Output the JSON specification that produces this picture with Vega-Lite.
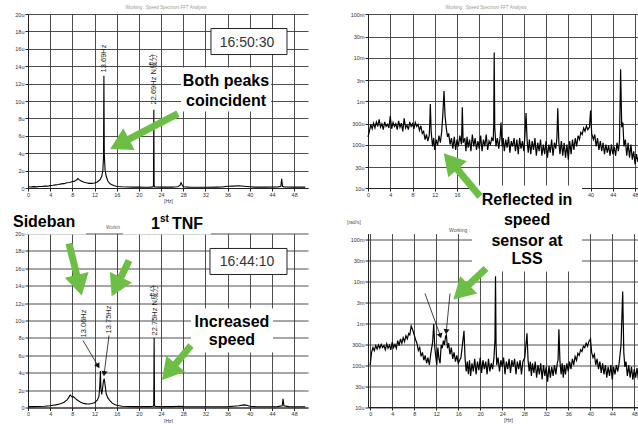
{
"$schema": "https://vega.github.io/schema/vega-lite/v6.json",
"padding": {"left": 12, "top": 5, "right": 0, "bottom": 0},
"background": "white",
"bounds": "flush",
"columns": 2,
"spacing": {"row": 45.5, "column": 60},
"config": {
  "view": {"stroke": null},
  "font": "Liberation Sans",
  "axis": {"labelFont": "Liberation Sans", "labelFontSize": 5.5, "labelColor": "#333", "domainColor": "#222", "tickColor": "#222", "gridColor": "#3a3a3a", "gridWidth": 0.9, "tickSize": 3, "labelPadding": 1, "titleFontSize": 5, "titleFontWeight": "normal", "titlePadding": 1, "titleColor": "#333", "labelFlush": false, "labelOverlap": false}
},
"concat": [
  {
   "width": 280, "height": 174,
   "encoding": {
     "x": {"field": "f", "type": "quantitative", "scale": {"domain": [0, 50.5], "nice": false, "zero": false}, "axis": {"values": [0,4,8,12,16,20,24,28,32,36,40,44,48], "title": "[Hz]", "grid": true}},
     "y": {"field": "v", "type": "quantitative", "scale": {"domain": [0, 20], "nice": false}, "axis": {"values": [0,2,4,6,8,10,12,14,16,18,20], "labelExpr": "datum.value == 0 ? '0' : datum.value + 'u'", "title": null, "grid": true}}
   },
   "layer": [
    {"data": {"values": [{"f":0,"v":0.15},{"f":0.5,"v":0.12},{"f":1,"v":0.16},{"f":1.5,"v":0.13},{"f":2,"v":0.17},{"f":2.5,"v":0.18},{"f":3,"v":0.22},{"f":3.5,"v":0.21},{"f":4,"v":0.27},{"f":4.5,"v":0.31},{"f":5,"v":0.36},{"f":5.5,"v":0.4},{"f":6,"v":0.47},{"f":6.5,"v":0.5},{"f":7,"v":0.6},{"f":7.5,"v":0.64},{"f":8,"v":0.75},{"f":8.3,"v":0.76},{"f":8.6,"v":0.86},{"f":8.8,"v":0.95},{"f":9,"v":1.08},{"f":9.2,"v":0.96},{"f":9.5,"v":0.84},{"f":10,"v":0.68},{"f":10.5,"v":0.6},{"f":11,"v":0.53},{"f":11.5,"v":0.53},{"f":12,"v":0.58},{"f":12.5,"v":0.7},{"f":13,"v":0.95},{"f":13.3,"v":1.35},{"f":13.5,"v":2.0},{"f":13.62,"v":3.6},{"f":13.69,"v":12.9},{"f":13.76,"v":4.0},{"f":13.9,"v":2.1},{"f":14.1,"v":1.35},{"f":14.4,"v":0.8},{"f":14.7,"v":0.55},{"f":15,"v":0.4},{"f":15.5,"v":0.28},{"f":16,"v":0.18},{"f":17,"v":0.14},{"f":18,"v":0.12},{"f":19,"v":0.1},{"f":20,"v":0.1},{"f":21,"v":0.09},{"f":22,"v":0.1},{"f":22.55,"v":0.13},{"f":22.63,"v":0.3},{"f":22.69,"v":9.0},{"f":22.75,"v":0.3},{"f":22.85,"v":0.12},{"f":24,"v":0.1},{"f":25,"v":0.1},{"f":26,"v":0.1},{"f":27,"v":0.15},{"f":27.4,"v":0.3},{"f":27.6,"v":0.6},{"f":27.8,"v":0.35},{"f":28,"v":0.15},{"f":29,"v":0.1},{"f":30,"v":0.08},{"f":32,"v":0.08},{"f":34,"v":0.1},{"f":35,"v":0.12},{"f":36,"v":0.2},{"f":37,"v":0.22},{"f":38,"v":0.25},{"f":39,"v":0.2},{"f":40,"v":0.15},{"f":41,"v":0.1},{"f":43,"v":0.1},{"f":45,"v":0.12},{"f":45.6,"v":0.2},{"f":45.75,"v":1.05},{"f":45.9,"v":0.2},{"f":46.2,"v":0.12},{"f":48,"v":0.1},{"f":50,"v":0.1}]},
     "mark": {"type": "line", "color": "black", "strokeWidth": 1.1}},
    {"data": {"values": [{"f":27.59,"f2":43.83,"v":13.85,"v2":8.79}]},
     "mark": {"type": "rect", "fill": "white"},
     "encoding": {"x2": {"field": "f2"}, "y2": {"field": "v2"}}},
    {"data": {"values": [{"f":33.0,"f2":46.71,"v":18.33,"v2":15.34}]},
     "mark": {"type": "rect", "fill": "white", "stroke": "#222", "strokeWidth": 1},
     "encoding": {"x2": {"field": "f2"}, "y2": {"field": "v2"}}},
    {"data": {"values": [{"f":39.5,"v":16.15,"t":"16:50:30"}]},
     "mark": {"type": "text", "fontSize": 14, "color": "#333", "align": "center", "baseline": "alphabetic"},
     "encoding": {"text": {"field": "t"}}},
    {"data": {"values": [{"f":35.71,"v":11.67,"t":"Both peaks"},{"f":35.71,"v":9.48,"t":"coincident"}]},
     "mark": {"type": "text", "fontSize": 16, "fontWeight": "bold", "color": "black", "align": "center", "baseline": "alphabetic"},
     "encoding": {"text": {"field": "t"}}},
    {"data": {"values": [{"f":13.62,"v":13.28,"t":"13.69Hz"},{"f":22.72,"v":9.6,"t":"22.69Hz N成分"}]},
     "mark": {"type": "text", "fontSize": 7.5, "angle": 270, "align": "left", "baseline": "middle", "color": "#222", "font": "Liberation Sans, Noto Sans CJK JP"},
     "encoding": {"text": {"field": "t"}}},
    {"data": {"values": [{"f":24.89,"v":20.52,"t":"Working : Speed Spectrum  FFT Analysis"}]},
     "mark": {"type": "text", "fontSize": 4.5, "color": "#999", "align": "center", "baseline": "alphabetic"},
     "encoding": {"text": {"field": "t"}}},
    {"data": {"values": [{"f":27.05,"v":8.56,"f2":17.08,"v2":5.24}]},
     "mark": {"type": "rule", "color": "#6dbe45", "strokeWidth": 7},
     "encoding": {"x2": {"field": "f2"}, "y2": {"field": "v2"}}},
    {"data": {"values": [{"f":17.08,"v":5.24,"a":242.4}]},
     "mark": {"type": "point", "shape": "triangle", "filled": true, "color": "#6dbe45", "size": 600, "opacity": 1, "strokeWidth": 0},
     "encoding": {"angle": {"field": "a", "type": "quantitative", "scale": null}}}
   ]
  },
  {
   "width": 281, "height": 174,
   "encoding": {
     "x": {"field": "f", "type": "quantitative", "scale": {"domain": [0, 50.5], "nice": false, "zero": false}, "axis": {"values": [0,4,8,12,16,20,24,28,32,36,40,44,48], "labelExpr": "datum.value >= 20 && datum.value <= 36 ? '' : datum.label", "title": null, "grid": true}},
     "y": {"field": "v", "type": "quantitative", "scale": {"type": "log", "domain": [10, 100000], "nice": false}, "axis": {"values": [10,30,100,300,1000,3000,10000,30000,100000], "labelExpr": "datum.value >= 1000 ? (datum.value / 1000) + 'm' : datum.value + 'u'", "title": null, "grid": true}}
   },
   "layer": [
    {"data": {"values": [{"f":0,"v":150},{"f":0.25,"v":200},{"f":0.5,"v":290},{"f":0.75,"v":230},{"f":1,"v":310},{"f":1.25,"v":240},{"f":1.5,"v":330},{"f":1.75,"v":260},{"f":2,"v":380},{"f":2.25,"v":250},{"f":2.5,"v":300},{"f":2.75,"v":220},{"f":3,"v":330},{"f":3.25,"v":260},{"f":3.5,"v":290},{"f":3.75,"v":240},{"f":4,"v":450},{"f":4.25,"v":230},{"f":4.5,"v":320},{"f":4.75,"v":260},{"f":5,"v":300},{"f":5.25,"v":220},{"f":5.5,"v":350},{"f":5.75,"v":250},{"f":6,"v":310},{"f":6.25,"v":200},{"f":6.5,"v":400},{"f":6.75,"v":240},{"f":7,"v":280},{"f":7.25,"v":220},{"f":7.5,"v":330},{"f":7.75,"v":260},{"f":8,"v":300},{"f":8.25,"v":230},{"f":8.5,"v":320},{"f":8.75,"v":260},{"f":9,"v":290},{"f":9.25,"v":210},{"f":9.5,"v":270},{"f":9.75,"v":180},{"f":10,"v":200},{"f":10.25,"v":130},{"f":10.5,"v":170},{"f":10.75,"v":120},{"f":11,"v":160},{"f":11.1,"v":300},{"f":11.2,"v":850},{"f":11.35,"v":200},{"f":11.6,"v":90},{"f":11.8,"v":140},{"f":12,"v":75},{"f":12.25,"v":130},{"f":12.5,"v":95},{"f":12.75,"v":160},{"f":13,"v":110},{"f":13.25,"v":200},{"f":13.45,"v":500},{"f":13.66,"v":1700},{"f":13.85,"v":450},{"f":14.1,"v":220},{"f":14.3,"v":150},{"f":14.5,"v":180},{"f":14.75,"v":100},{"f":15,"v":140},{"f":15.25,"v":80},{"f":15.5,"v":150},{"f":15.75,"v":75},{"f":16,"v":130},{"f":16.25,"v":90},{"f":16.5,"v":160},{"f":16.8,"v":100},{"f":16.95,"v":720},{"f":17.1,"v":110},{"f":17.4,"v":140},{"f":17.6,"v":70},{"f":17.8,"v":150},{"f":18,"v":85},{"f":18.25,"v":130},{"f":18.5,"v":70},{"f":18.75,"v":170},{"f":19,"v":90},{"f":19.25,"v":140},{"f":19.5,"v":75},{"f":19.75,"v":120},{"f":20,"v":80},{"f":20.25,"v":160},{"f":20.5,"v":70},{"f":20.75,"v":130},{"f":21,"v":90},{"f":21.25,"v":170},{"f":21.5,"v":75},{"f":21.75,"v":120},{"f":22,"v":100},{"f":22.25,"v":140},{"f":22.5,"v":120},{"f":22.6,"v":300},{"f":22.68,"v":13000},{"f":22.78,"v":250},{"f":23,"v":90},{"f":23.25,"v":140},{"f":23.5,"v":80},{"f":23.75,"v":150},{"f":23.9,"v":320},{"f":24.1,"v":90},{"f":24.3,"v":140},{"f":24.5,"v":70},{"f":24.75,"v":130},{"f":25,"v":85},{"f":25.25,"v":150},{"f":25.5,"v":65},{"f":25.75,"v":120},{"f":26,"v":90},{"f":26.25,"v":140},{"f":26.5,"v":70},{"f":26.75,"v":130},{"f":27,"v":60},{"f":27.25,"v":140},{"f":27.5,"v":80},{"f":27.75,"v":120},{"f":28,"v":70},{"f":28.2,"v":160},{"f":28.4,"v":530},{"f":28.6,"v":120},{"f":28.8,"v":65},{"f":29,"v":130},{"f":29.25,"v":60},{"f":29.5,"v":120},{"f":29.75,"v":75},{"f":30,"v":140},{"f":30.25,"v":55},{"f":30.5,"v":110},{"f":30.75,"v":70},{"f":31,"v":130},{"f":31.25,"v":55},{"f":31.5,"v":100},{"f":31.75,"v":60},{"f":32,"v":120},{"f":32.25,"v":50},{"f":32.5,"v":100},{"f":32.75,"v":65},{"f":33,"v":130},{"f":33.25,"v":55},{"f":33.5,"v":110},{"f":33.75,"v":80},{"f":33.95,"v":140},{"f":34.1,"v":680},{"f":34.3,"v":110},{"f":34.5,"v":60},{"f":34.75,"v":120},{"f":35,"v":55},{"f":35.25,"v":110},{"f":35.5,"v":50},{"f":35.75,"v":100},{"f":36,"v":45},{"f":36.25,"v":120},{"f":36.5,"v":60},{"f":36.75,"v":130},{"f":37,"v":75},{"f":37.25,"v":140},{"f":37.5,"v":90},{"f":37.75,"v":160},{"f":38,"v":130},{"f":38.25,"v":190},{"f":38.5,"v":170},{"f":38.75,"v":240},{"f":39,"v":200},{"f":39.25,"v":270},{"f":39.5,"v":220},{"f":39.8,"v":250},{"f":40,"v":600},{"f":40.2,"v":180},{"f":40.5,"v":130},{"f":40.75,"v":170},{"f":41,"v":90},{"f":41.25,"v":140},{"f":41.5,"v":75},{"f":41.75,"v":120},{"f":42,"v":70},{"f":42.25,"v":110},{"f":42.5,"v":60},{"f":42.75,"v":100},{"f":43,"v":65},{"f":43.25,"v":95},{"f":43.5,"v":55},{"f":43.75,"v":100},{"f":44,"v":60},{"f":44.25,"v":90},{"f":44.5,"v":55},{"f":44.75,"v":110},{"f":45,"v":70},{"f":45.2,"v":120},{"f":45.4,"v":5400},{"f":45.6,"v":250},{"f":45.8,"v":320},{"f":46,"v":90},{"f":46.25,"v":130},{"f":46.5,"v":55},{"f":46.75,"v":110},{"f":47,"v":50},{"f":47.25,"v":100},{"f":47.5,"v":45},{"f":47.75,"v":70},{"f":48,"v":35},{"f":48.25,"v":60},{"f":48.5,"v":40},{"f":48.75,"v":65},{"f":49,"v":38},{"f":49.5,"v":55},{"f":50,"v":40}]},
     "mark": {"type": "line", "color": "black", "strokeWidth": 1.2}},
    {"data": {"values": [{"f":21.21,"v":126900,"t":"Working : Speed Spectrum  FFT Analysis"}]},
     "mark": {"type": "text", "fontSize": 4.5, "color": "#999", "align": "center", "baseline": "alphabetic"},
     "encoding": {"text": {"field": "t"}}}
   ]
  },
  {
   "width": 280, "height": 174,
   "encoding": {
     "x": {"field": "f", "type": "quantitative", "scale": {"domain": [0, 50.5], "nice": false, "zero": false}, "axis": {"values": [0,4,8,12,16,20,24,28,32,36,40,44,48], "title": "[Hz]", "grid": true}},
     "y": {"field": "v", "type": "quantitative", "scale": {"domain": [0, 20], "nice": false}, "axis": {"values": [0,2,4,6,8,10,12,14,16,18,20], "labelExpr": "datum.value == 0 ? '0' : datum.value + 'u'", "title": null, "grid": true}}
   },
   "layer": [
    {"data": {"values": [{"f":0,"v":0.1},{"f":1,"v":0.1},{"f":2,"v":0.12},{"f":3,"v":0.15},{"f":4,"v":0.2},{"f":4.5,"v":0.25},{"f":5,"v":0.3},{"f":5.5,"v":0.38},{"f":6,"v":0.45},{"f":6.5,"v":0.6},{"f":7,"v":0.85},{"f":7.3,"v":1.1},{"f":7.6,"v":1.45},{"f":7.8,"v":1.3},{"f":8,"v":1.2},{"f":8.2,"v":1.25},{"f":8.5,"v":1.05},{"f":9,"v":0.8},{"f":9.5,"v":0.6},{"f":10,"v":0.47},{"f":10.5,"v":0.42},{"f":11,"v":0.4},{"f":11.5,"v":0.45},{"f":12,"v":0.55},{"f":12.5,"v":0.85},{"f":12.8,"v":1.3},{"f":12.95,"v":2.5},{"f":13.06,"v":4.2},{"f":13.15,"v":2.2},{"f":13.3,"v":1.5},{"f":13.45,"v":2.2},{"f":13.6,"v":3.0},{"f":13.75,"v":3.3},{"f":13.9,"v":2.6},{"f":14.1,"v":1.6},{"f":14.4,"v":1.1},{"f":14.8,"v":0.75},{"f":15.2,"v":0.5},{"f":15.6,"v":0.35},{"f":16,"v":0.25},{"f":17,"v":0.15},{"f":18,"v":0.12},{"f":19,"v":0.1},{"f":20,"v":0.1},{"f":22,"v":0.1},{"f":22.6,"v":0.15},{"f":22.68,"v":0.3},{"f":22.75,"v":8.0},{"f":22.82,"v":0.3},{"f":22.9,"v":0.12},{"f":24,"v":0.1},{"f":26,"v":0.1},{"f":27.5,"v":0.15},{"f":28,"v":0.1},{"f":30,"v":0.08},{"f":32,"v":0.08},{"f":34,"v":0.08},{"f":36,"v":0.1},{"f":37,"v":0.15},{"f":38,"v":0.2},{"f":39,"v":0.3},{"f":39.5,"v":0.25},{"f":40,"v":0.15},{"f":41,"v":0.1},{"f":43,"v":0.08},{"f":45,"v":0.1},{"f":45.85,"v":0.2},{"f":46.0,"v":1.0},{"f":46.15,"v":0.2},{"f":47,"v":0.1},{"f":48,"v":0.08},{"f":50,"v":0.08}]},
     "mark": {"type": "line", "color": "black", "strokeWidth": 1.1}},
    {"data": {"values": [{"f":17.13,"f2":33.0,"v":23.22,"v2":19.89},{"f":-0.54,"f2":10.46,"v":23.22,"v2":19.89},{"f":29.4,"f2":44.19,"v":11.38,"v2":6.32}]},
     "mark": {"type": "rect", "fill": "white"},
     "encoding": {"x2": {"field": "f2"}, "y2": {"field": "v2"}}},
    {"data": {"values": [{"f":32.82,"f2":46.71,"v":18.28,"v2":15.29}]},
     "mark": {"type": "rect", "fill": "white", "stroke": "#222", "strokeWidth": 1},
     "encoding": {"x2": {"field": "f2"}, "y2": {"field": "v2"}}},
    {"data": {"values": [{"f":39.5,"v":16.24,"t":"16:44:10"}]},
     "mark": {"type": "text", "fontSize": 14, "color": "#333", "align": "center", "baseline": "alphabetic"},
     "encoding": {"text": {"field": "t"}}},
    {"data": {"values": [{"f":-2.71,"v":20.69,"t":"Sideban"},{"f":22.18,"v":20.57,"t":"1"},{"f":25.97,"v":20.57,"t":"TNF"}]},
     "mark": {"type": "text", "fontSize": 16, "fontWeight": "bold", "color": "black", "align": "left", "baseline": "alphabetic"},
     "encoding": {"text": {"field": "t"}}},
    {"data": {"values": [{"f":23.81,"v":21.32,"t":"st"}]},
     "mark": {"type": "text", "fontSize": 10, "fontWeight": "bold", "color": "black", "align": "left", "baseline": "alphabetic"},
     "encoding": {"text": {"field": "t"}}},
    {"data": {"values": [{"f":36.79,"v":9.25,"t":"Increased"},{"f":36.79,"v":7.24,"t":"speed"}]},
     "mark": {"type": "text", "fontSize": 16, "fontWeight": "bold", "color": "black", "align": "center", "baseline": "alphabetic"},
     "encoding": {"text": {"field": "t"}}},
    {"data": {"values": [{"f":10.1,"v":8.05,"t":"13.06Hz"},{"f":14.61,"v":8.51,"t":"13.75Hz"},{"f":22.9,"v":8.28,"t":"22.75Hz N成分"}]},
     "mark": {"type": "text", "fontSize": 7.5, "angle": 270, "align": "left", "baseline": "middle", "color": "#222", "font": "Liberation Sans, Noto Sans CJK JP"},
     "encoding": {"text": {"field": "t"}}},
    {"data": {"values": [{"f":14.07,"v":20.46,"t":"Workin"}]},
     "mark": {"type": "text", "fontSize": 4.5, "color": "#666", "align": "left", "baseline": "alphabetic"},
     "encoding": {"text": {"field": "t"}}},
    {"data": {"values": [{"f":9.92,"v":7.7,"f2":12.57,"v2":4.85},{"f":14.61,"v":8.28,"f2":13.76,"v2":3.98}]},
     "mark": {"type": "rule", "color": "#111", "strokeWidth": 0.8},
     "encoding": {"x2": {"field": "f2"}, "y2": {"field": "v2"}}},
    {"data": {"values": [{"f":12.57,"v":4.85,"a":149.3},{"f":13.76,"v":3.98,"a":187.1}]},
     "mark": {"type": "point", "shape": "triangle", "filled": true, "color": "#111", "size": 36, "opacity": 1, "strokeWidth": 0},
     "encoding": {"angle": {"field": "a", "type": "quantitative", "scale": null}}},
    {"data": {"values": [{"f":7.39,"v":18.85,"f2":9.09,"v2":14.45},{"f":18.22,"v":16.9,"f2":16.2,"v2":14.24},{"f":29.4,"v":7.13,"f2":25.81,"v2":4.41}]},
     "mark": {"type": "rule", "color": "#6dbe45", "strokeWidth": 7},
     "encoding": {"x2": {"field": "f2"}, "y2": {"field": "v2"}}},
    {"data": {"values": [{"f":9.09,"v":14.45,"a":166.2},{"f":16.2,"v":14.24,"a":205.9},{"f":25.81,"v":4.41,"a":220.2}]},
     "mark": {"type": "point", "shape": "triangle", "filled": true, "color": "#6dbe45", "size": 600, "opacity": 1, "strokeWidth": 0},
     "encoding": {"angle": {"field": "a", "type": "quantitative", "scale": null}}}
   ]
  },
  {
   "width": 280, "height": 173.5,
   "encoding": {
     "x": {"field": "f", "type": "quantitative", "scale": {"domain": [-0.4, 50.5], "nice": false, "zero": false}, "axis": {"values": [0,4,8,12,16,20,24,28,32,36,40,44,48], "title": "[Hz]", "grid": true}},
     "y": {"field": "v", "type": "quantitative", "scale": {"type": "log", "domain": [10, 135200], "nice": false}, "axis": {"values": [10,30,100,300,1000,3000,10000,30000,100000], "labelExpr": "datum.value >= 1000 ? (datum.value / 1000) + 'm' : datum.value + 'u'", "title": null, "grid": true}}
   },
   "layer": [
    {"data": {"values": [{"f":0,"v":100},{"f":0.25,"v":200},{"f":0.5,"v":260},{"f":0.75,"v":220},{"f":1,"v":290},{"f":1.25,"v":240},{"f":1.5,"v":300},{"f":1.75,"v":250},{"f":2,"v":310},{"f":2.25,"v":260},{"f":2.5,"v":290},{"f":2.75,"v":230},{"f":3,"v":320},{"f":3.25,"v":250},{"f":3.5,"v":300},{"f":3.75,"v":230},{"f":4,"v":350},{"f":4.25,"v":260},{"f":4.5,"v":310},{"f":4.75,"v":250},{"f":5,"v":380},{"f":5.25,"v":290},{"f":5.5,"v":420},{"f":5.75,"v":330},{"f":6,"v":450},{"f":6.25,"v":360},{"f":6.5,"v":500},{"f":6.75,"v":420},{"f":7,"v":560},{"f":7.2,"v":520},{"f":7.45,"v":850},{"f":7.7,"v":700},{"f":8,"v":520},{"f":8.25,"v":400},{"f":8.5,"v":330},{"f":8.75,"v":220},{"f":9,"v":260},{"f":9.25,"v":160},{"f":9.5,"v":200},{"f":9.75,"v":130},{"f":10,"v":170},{"f":10.25,"v":110},{"f":10.5,"v":150},{"f":10.75,"v":100},{"f":11,"v":180},{"f":11.35,"v":350},{"f":11.55,"v":950},{"f":11.75,"v":250},{"f":11.95,"v":150},{"f":12.1,"v":100},{"f":12.3,"v":260},{"f":12.5,"v":140},{"f":12.7,"v":110},{"f":12.9,"v":300},{"f":13.1,"v":250},{"f":13.3,"v":380},{"f":13.5,"v":300},{"f":13.7,"v":480},{"f":13.85,"v":520},{"f":14.05,"v":250},{"f":14.25,"v":330},{"f":14.5,"v":180},{"f":14.75,"v":260},{"f":15,"v":140},{"f":15.25,"v":200},{"f":15.5,"v":120},{"f":15.75,"v":170},{"f":16,"v":110},{"f":16.5,"v":150},{"f":17.05,"v":650},{"f":17.25,"v":140},{"f":17.45,"v":70},{"f":17.65,"v":120},{"f":17.85,"v":60},{"f":18.05,"v":130},{"f":18.25,"v":55},{"f":18.5,"v":110},{"f":18.75,"v":70},{"f":19,"v":140},{"f":19.25,"v":60},{"f":19.5,"v":120},{"f":19.75,"v":75},{"f":20,"v":150},{"f":20.25,"v":65},{"f":20.5,"v":130},{"f":20.75,"v":80},{"f":21,"v":120},{"f":21.25,"v":60},{"f":21.5,"v":140},{"f":21.75,"v":70},{"f":22,"v":110},{"f":22.25,"v":80},{"f":22.5,"v":150},{"f":22.68,"v":400},{"f":22.78,"v":13000},{"f":22.88,"v":300},{"f":23,"v":100},{"f":23.25,"v":150},{"f":23.5,"v":70},{"f":23.75,"v":130},{"f":24,"v":90},{"f":24.25,"v":150},{"f":24.5,"v":60},{"f":24.75,"v":120},{"f":25,"v":80},{"f":25.25,"v":140},{"f":25.5,"v":65},{"f":25.75,"v":130},{"f":26,"v":90},{"f":26.25,"v":140},{"f":26.5,"v":60},{"f":26.75,"v":120},{"f":27,"v":80},{"f":27.25,"v":130},{"f":27.5,"v":60},{"f":27.75,"v":120},{"f":28.1,"v":150},{"f":28.5,"v":570},{"f":28.7,"v":130},{"f":28.9,"v":70},{"f":29.1,"v":120},{"f":29.3,"v":55},{"f":29.5,"v":110},{"f":29.75,"v":65},{"f":30,"v":120},{"f":30.25,"v":50},{"f":30.5,"v":100},{"f":30.75,"v":60},{"f":31,"v":110},{"f":31.25,"v":45},{"f":31.5,"v":100},{"f":31.75,"v":55},{"f":32,"v":90},{"f":32.25,"v":40},{"f":32.5,"v":95},{"f":32.75,"v":50},{"f":33,"v":90},{"f":33.25,"v":55},{"f":33.5,"v":100},{"f":33.75,"v":60},{"f":34,"v":110},{"f":34.15,"v":130},{"f":34.3,"v":710},{"f":34.5,"v":120},{"f":34.7,"v":60},{"f":34.9,"v":110},{"f":35.1,"v":50},{"f":35.3,"v":100},{"f":35.5,"v":60},{"f":35.75,"v":110},{"f":36,"v":70},{"f":36.25,"v":120},{"f":36.5,"v":80},{"f":36.75,"v":140},{"f":37,"v":100},{"f":37.25,"v":160},{"f":37.5,"v":130},{"f":37.75,"v":190},{"f":38,"v":170},{"f":38.25,"v":230},{"f":38.5,"v":210},{"f":38.75,"v":280},{"f":39,"v":260},{"f":39.25,"v":330},{"f":39.5,"v":280},{"f":39.75,"v":360},{"f":40.05,"v":420},{"f":40.25,"v":200},{"f":40.5,"v":150},{"f":40.75,"v":180},{"f":41,"v":100},{"f":41.25,"v":140},{"f":41.5,"v":80},{"f":41.75,"v":120},{"f":42,"v":65},{"f":42.25,"v":110},{"f":42.5,"v":60},{"f":42.75,"v":100},{"f":43,"v":50},{"f":43.25,"v":90},{"f":43.5,"v":55},{"f":43.75,"v":100},{"f":44,"v":45},{"f":44.25,"v":90},{"f":44.5,"v":60},{"f":44.75,"v":100},{"f":45,"v":70},{"f":45.25,"v":110},{"f":45.6,"v":300},{"f":45.9,"v":5600},{"f":46.1,"v":200},{"f":46.3,"v":90},{"f":46.5,"v":120},{"f":46.75,"v":55},{"f":47,"v":100},{"f":47.25,"v":50},{"f":47.5,"v":90},{"f":47.75,"v":45},{"f":48,"v":80},{"f":48.25,"v":50},{"f":48.5,"v":85},{"f":48.75,"v":45},{"f":49,"v":70},{"f":49.5,"v":40},{"f":50,"v":55}]},
     "mark": {"type": "line", "color": "black", "strokeWidth": 1.2}},
    {"data": {"values": [{"f":18.51,"f2":38.51,"v":1880000,"v2":16830}]},
     "mark": {"type": "rect", "fill": "white"},
     "encoding": {"x2": {"field": "f2"}, "y2": {"field": "v2"}}},
    {"data": {"values": [{"f":-4.22,"v":221500,"t":"[rad/s]"},{"f":14.33,"v":143000,"t":"Working :"}]},
     "mark": {"type": "text", "fontSize": 5, "color": "#555", "align": "left", "baseline": "alphabetic"},
     "encoding": {"text": {"field": "t"}}},
    {"data": {"values": [{"f":28.51,"v":628000,"t":"Reflected in"},{"f":28.51,"v":215400,"t":"speed"},{"f":28.51,"v":69900,"t":"sensor at"},{"f":28.51,"v":25400,"t":"LSS"}]},
     "mark": {"type": "text", "fontSize": 16, "fontWeight": "bold", "color": "black", "align": "center", "baseline": "alphabetic"},
     "encoding": {"text": {"field": "t"}}},
    {"data": {"values": [{"f":9.96,"v":5040,"f2":12.71,"v2":515},{"f":14.51,"v":5040,"f2":13.84,"v2":649}]},
     "mark": {"type": "rule", "color": "#111", "strokeWidth": 0.8},
     "encoding": {"x2": {"field": "f2"}, "y2": {"field": "v2"}}},
    {"data": {"values": [{"f":12.71,"v":515,"a":160},{"f":13.84,"v":649,"a":185.7}]},
     "mark": {"type": "point", "shape": "triangle", "filled": true, "color": "#111", "size": 36, "opacity": 1, "strokeWidth": 0},
     "encoding": {"angle": {"field": "a", "type": "quantitative", "scale": null}}},
    {"data": {"values": [{"f":19.96,"v":1030000,"f2":15.04,"v2":6140000},{"f":21.05,"v":19860,"f2":16.98,"v2":6240}]},
     "mark": {"type": "rule", "color": "#6dbe45", "strokeWidth": 7},
     "encoding": {"x2": {"field": "f2"}, "y2": {"field": "v2"}}},
    {"data": {"values": [{"f":15.04,"v":6140000,"a":319.5},{"f":16.98,"v":6240,"a":226}]},
     "mark": {"type": "point", "shape": "triangle", "filled": true, "color": "#6dbe45", "size": 600, "opacity": 1, "strokeWidth": 0},
     "encoding": {"angle": {"field": "a", "type": "quantitative", "scale": null}}}
   ]
  }
]
}
